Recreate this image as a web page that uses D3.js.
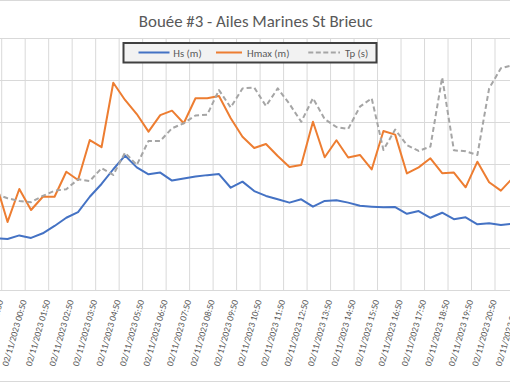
<!DOCTYPE html>
<html><head><meta charset="utf-8">
<script src="https://cdn.jsdelivr.net/npm/d3@7"></script>
<style>body{margin:0;background:#fff;overflow:hidden} svg{display:block}</style>
</head><body>
<svg id="c" width="510" height="382"></svg>
<script>
const categories = [
"01/11/2023 23:50","02/11/2023 00:20","02/11/2023 00:50","02/11/2023 01:20","02/11/2023 01:50",
"02/11/2023 02:20","02/11/2023 02:50","02/11/2023 03:20","02/11/2023 03:50","02/11/2023 04:20",
"02/11/2023 04:50","02/11/2023 05:20","02/11/2023 05:50","02/11/2023 06:20","02/11/2023 06:50",
"02/11/2023 07:20","02/11/2023 07:50","02/11/2023 08:20","02/11/2023 08:50","02/11/2023 09:20",
"02/11/2023 09:50","02/11/2023 10:20","02/11/2023 10:50","02/11/2023 11:20","02/11/2023 11:50",
"02/11/2023 12:20","02/11/2023 12:50","02/11/2023 13:20","02/11/2023 13:50","02/11/2023 14:20",
"02/11/2023 14:50","02/11/2023 15:20","02/11/2023 15:50","02/11/2023 16:20","02/11/2023 16:50",
"02/11/2023 17:20","02/11/2023 17:50","02/11/2023 18:20","02/11/2023 18:50","02/11/2023 19:20",
"02/11/2023 19:50","02/11/2023 20:20","02/11/2023 20:50","02/11/2023 21:20","02/11/2023 21:50"
];
const hs = [2.46,2.43,2.60,2.48,2.70,3.05,3.44,3.71,4.44,5.05,5.75,6.40,5.84,5.51,5.59,5.21,5.31,5.40,5.47,5.52,
4.87,5.16,4.71,4.48,4.32,4.16,4.32,3.97,4.24,4.27,4.16,4.01,3.97,3.94,3.95,3.63,3.76,3.44,3.68,3.37,
3.46,3.13,3.18,3.10,3.16];
const hmax = [5.10,3.24,4.81,3.81,4.44,4.44,5.63,5.24,7.14,6.80,9.87,9.05,8.38,7.54,8.33,8.54,7.94,9.13,9.13,9.24,
8.18,7.30,6.76,6.95,6.38,5.86,5.95,8.01,6.32,7.13,6.31,6.43,5.74,7.57,7.40,5.55,5.84,6.27,5.56,5.59,
4.89,6.11,5.13,4.73,5.33];
const tp = [4.57,4.37,4.24,4.18,4.48,4.73,4.80,5.27,5.19,5.80,5.48,6.54,5.95,7.10,7.10,7.70,7.94,8.31,8.35,9.52,
8.69,9.60,9.64,8.76,9.60,8.86,8.01,9.13,8.14,7.76,7.67,8.73,9.13,6.67,7.64,6.90,6.62,6.83,10.12,6.65,
6.61,6.43,9.60,10.56,10.71];
const yTicks = [0,2,4,6,8,10,12];
const seriesNames = ["Hs (m)","Hmax (m)","Tp (s)"];
const colors = ["#4472C4","#ED7D31","#A5A5A5"];
const title = "Bouée #3 - Ailes Marines St Brieuc";

(function(){
const FONT = "Carlito, Calibri, Lato, sans-serif";
const svg = d3.select("#c");
const fitText = (sel, target) => {
  const w = sel.node().getComputedTextLength();
  const fs = parseFloat(sel.attr("font-size"));
  sel.attr("font-size", fs * target / w);
};

svg.append("rect").attr("x",-5).attr("y",0.5).attr("width",520).attr("height",381)
  .attr("fill","#fff").attr("stroke","#d9d9d9").attr("stroke-width",1);

const plotTop = 38, plotBottom = 290;
const x = d3.scaleBand().domain(categories).range([-10.05, 518.5]).padding(0);
const y = d3.scaleLinear().domain([0,12]).range([plotBottom, plotTop]);
const bw = x.bandwidth();

const ga = svg.append("g").attr("transform","translate(-10,0)")
  .call(d3.axisLeft(y).tickValues(yTicks).tickSize(-540).tickFormat(""));
ga.select(".domain").remove();
ga.selectAll("line").attr("stroke","#d9d9d9").attr("stroke-width",1);

const labelled = categories.filter(c => c.endsWith(":50"));
const xa = svg.append("g").attr("transform",`translate(${bw/2},${plotBottom})`)
  .call(d3.axisBottom(x).tickValues(labelled).tickSizeInner(-(plotBottom-plotTop)).tickSizeOuter(0));
xa.select(".domain").remove();
xa.selectAll("line").attr("stroke","#d9d9d9").attr("stroke-width",1);
const lbl = xa.selectAll("text")
  .attr("x",0).attr("y",0).attr("dy",0)
  .attr("fill","#595959").attr("font-family",FONT).attr("font-size",10)
  .attr("text-anchor","end")
  .attr("transform","translate(1.7,11) rotate(-74)");
const ref = d3.select(lbl.nodes()[1]);
fitText(ref, 68.5);
lbl.attr("font-size", ref.attr("font-size"));

const series = [hs, hmax, tp];
const line = d3.line().x((d,i) => x(categories[i]) + bw/2).y(d => y(d));
series.forEach((s,k) => {
  svg.append("path").datum(s).attr("d", line)
    .attr("fill","none").attr("stroke",colors[k]).attr("stroke-width",2)
    .attr("stroke-linejoin","round").attr("stroke-linecap", k===2 ? "butt" : "round")
    .attr("stroke-dasharray", k===2 ? "5,3" : null);
});

const t = svg.append("text").attr("x",255.8).attr("y",27).attr("text-anchor","middle")
  .attr("fill","#595959").attr("font-family",FONT).attr("font-size",16).text(title);
fitText(t, 234);

svg.append("rect").attr("x",123.5).attr("y",43).attr("width",253).attr("height",19.5)
  .attr("fill","#f2f2f2").attr("stroke","#404040").attr("stroke-width",2);
const legX = [[138.5,169.5,173.3],[216,242,247],[308.3,340,345]];
let lfs = 11;
seriesNames.forEach((n,k) => {
  svg.append("line").attr("x1",legX[k][0]).attr("x2",legX[k][1]).attr("y1",52.5).attr("y2",52.5)
    .attr("stroke",colors[k]).attr("stroke-width",2)
    .attr("stroke-dasharray", k===2 ? "5,2.5" : null);
  const tt = svg.append("text").attr("x",legX[k][2]).attr("y",53).attr("dominant-baseline","central")
    .attr("fill","#595959").attr("font-family",FONT).attr("font-size",lfs).text(n);
  if (k===0) { fitText(tt, 28.4); lfs = tt.attr("font-size"); }
});
})();
</script>
</body></html>
